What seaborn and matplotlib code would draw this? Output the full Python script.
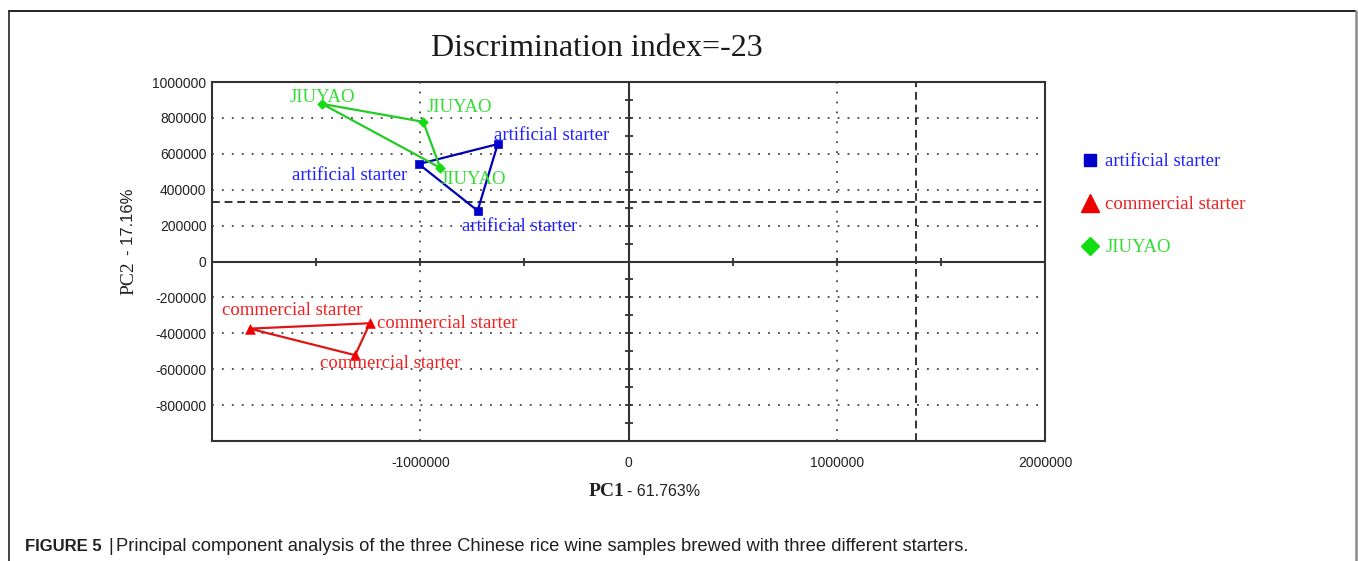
import numpy as np
import pandas as pd
import matplotlib
matplotlib.use("Agg")
import matplotlib.pyplot as plt
from matplotlib.lines import Line2D
import seaborn as sns

# ---- data -------------------------------------------------------------
groups = ["artificial starter", "commercial starter", "JIUYAO"]

artificial_pc1 = [-1007000, -628000, -724500]
artificial_pc2 = [543000, 654000, 283000]

commercial_pc1 = [-1819000, -1242000, -1312500]
commercial_pc2 = [-374000, -344000, -522000]

jiuyao_pc1 = [-1471000, -985600, -904000]
jiuyao_pc2 = [878000, 778000, 522000]

pc1_threshold = 1380000
pc2_threshold = 333000

x_ticks = [-1000000, 0, 1000000, 2000000]
x_tick_labels = ["-1000000", "0", "1000000", "2000000"]
y_ticks = [-800000, -600000, -400000, -200000, 0, 200000, 400000, 600000, 800000, 1000000]
y_tick_labels = ["-800000", "-600000", "-400000", "-200000", "0", "200000",
                 "400000", "600000", "800000", "1000000"]

title_text = "Discrimination index=-23"
caption_head = "FIGURE 5"
caption_body = "Principal component analysis of the three Chinese rice wine samples brewed with three different starters."

df = pd.DataFrame({
    "group": ["artificial starter"] * 3 + ["commercial starter"] * 3 + ["JIUYAO"] * 3,
    "pc1": artificial_pc1 + commercial_pc1 + jiuyao_pc1,
    "pc2": artificial_pc2 + commercial_pc2 + jiuyao_pc2,
})

# ---- styling ----------------------------------------------------------
sns.set_theme(style="white")
plt.rcParams["font.family"] = ["Liberation Sans", "DejaVu Sans"]
SERIF = ["Liberation Serif", "DejaVu Serif"]

line_colors = {"artificial starter": "#0000b4", "commercial starter": "#dd1616", "JIUYAO": "#22cc22"}
mark_colors = {"artificial starter": "#0000cc", "commercial starter": "#ee0000", "JIUYAO": "#11dd11"}
text_colors = {"artificial starter": "#1f1fff", "commercial starter": "#ee2020", "JIUYAO": "#33dd33"}
markers = {"artificial starter": "s", "commercial starter": "^", "JIUYAO": "D"}
mark_area = {"artificial starter": 30, "commercial starter": 48, "JIUYAO": 24}
legend_marker_size = {"artificial starter": 9.2, "commercial starter": 13, "JIUYAO": 9.2}

W, H = 1358, 561
fig = plt.figure(figsize=(W / 100, H / 100), dpi=100)


def fx(px):
    return px / W


def fy(py):
    return 1 - py / H


ax = fig.add_axes([fx(212), fy(441), fx(1045) - fx(212), fy(82) - fy(441)])
ax.set_xlim(-2000000, 2000000)
ax.set_ylim(-1000000, 1000000)

# dotted grid, zero axes and threshold lines
ax.set_xticks(x_ticks)
ax.set_yticks(y_ticks)
ax.grid(True, linestyle=(0, (1, 4.5)), color="#444444", linewidth=1.3)
ax.axhline(0, color="#333333", lw=1.5, zorder=2)
ax.axvline(0, color="#333333", lw=1.5, zorder=2)
ax.axhline(pc2_threshold, color="#333333", lw=1.4, ls=(0, (4, 2.5)), zorder=2)
ax.axvline(pc1_threshold, color="#333333", lw=1.4, ls=(0, (4, 2.5)), zorder=2)

# small cross ticks along the zero axes
y_minor = np.arange(-1000000, 1000001, 100000)
x_minor = np.arange(-1500000, 1500001, 500000)
ax.plot(np.zeros_like(y_minor), y_minor, ls="none", marker="_", ms=6, mew=1.3, color="#333333", zorder=2)
ax.plot(x_minor, np.zeros_like(x_minor), ls="none", marker="|", ms=6, mew=1.3, color="#333333", zorder=2)

# closed outline for every group
for g in groups:
    sub = df[df["group"] == g]
    xs = list(sub["pc1"]) + [sub["pc1"].iloc[0]]
    ys = list(sub["pc2"]) + [sub["pc2"].iloc[0]]
    ax.plot(xs, ys, color=line_colors[g], lw=1.6, zorder=3)

# sample markers
for g in groups:
    sns.scatterplot(data=df[df["group"] == g], x="pc1", y="pc2", marker=markers[g],
                    color=mark_colors[g], s=mark_area[g], edgecolor=mark_colors[g],
                    linewidth=0.5, ax=ax, zorder=4, legend=False)

# sample labels (offsets in pixels: dx, dy, horizontal alignment)
label_offsets = [
    (-12, -16, "right"), (-4, 4, "left"), (-16, -20, "left"),      # artificial
    (-28, 14, "left"), (7, -5, "left"), (-35, -13, "left"),        # commercial
    (0, 2, "center"), (3, 10, "left"), (0, -16, "left"),           # JIUYAO
]
for (i, row), (dx, dy, ha) in zip(df.iterrows(), label_offsets):
    ax.annotate(row["group"], (row["pc1"], row["pc2"]), xytext=(dx * 0.72, dy * 0.72),
                textcoords="offset points", ha=ha, va="baseline",
                fontsize=13.5, family=SERIF, color=text_colors[row["group"]], zorder=5)

# axes frame and tick labels
for s in ax.spines.values():
    s.set_color("#333333")
    s.set_linewidth(1.5)
    s.set_visible(True)
ax.set_xticklabels(x_tick_labels)
ax.set_yticklabels(y_tick_labels)
ax.tick_params(axis="both", length=0, labelsize=10, labelcolor="#222222")
ax.tick_params(axis="x", pad=11)
ax.tick_params(axis="y", pad=4)
ax.set_xlabel("")
ax.set_ylabel("")

# axis titles
fig.text(fx(624), fy(496), "PC1", family=SERIF, fontsize=14, fontweight="bold",
         ha="right", va="baseline", color="#222222")
fig.text(fx(627), fy(496), "- 61.763%", fontsize=11.5, ha="left", va="baseline", color="#222222")
fig.text(fx(133), fy(261), "PC2", family=SERIF, fontsize=14, rotation=90, rotation_mode="anchor",
         ha="right", va="baseline", color="#222222")
fig.text(fx(133), fy(255), "- 17.16%", fontsize=12, rotation=90, rotation_mode="anchor",
         ha="left", va="baseline", color="#222222")

# title
fig.text(fx(597), fy(56), title_text, family=SERIF, fontsize=23, ha="center", va="baseline",
         color="#1a1a1a")

# legend
handles = [Line2D([], [], ls="none", marker=markers[g], color=mark_colors[g],
                  markersize=legend_marker_size[g]) for g in groups]
leg = ax.legend(handles, groups, loc="upper left", bbox_to_anchor=(1.034, 0.823), frameon=False,
                prop={"family": SERIF, "size": 13.5}, labelspacing=1.38, handlelength=1.0,
                handletextpad=0.3, borderaxespad=0)
for txt, g in zip(leg.get_texts(), groups):
    txt.set_color(text_colors[g])

# caption
fig.text(fx(25), fy(551), caption_head, fontsize=12, fontweight="bold", ha="left", va="baseline",
         color="#231f20")
fig.text(fx(108), fy(551), "|", fontsize=13.5, ha="left", va="baseline", color="#231f20")
fig.text(fx(116), fy(551), caption_body, fontsize=13.2, ha="left", va="baseline", color="#231f20")

# figure frame
fig.add_artist(Line2D([fx(8.5), fx(8.5)], [fy(11), 0], transform=fig.transFigure, color="#222222", lw=1.2))
fig.add_artist(Line2D([fx(8.5), fx(1355)], [fy(11), fy(11)], transform=fig.transFigure, color="#222222", lw=1.4))
fig.add_artist(Line2D([fx(1355.5), fx(1355.5)], [fy(11), 0], transform=fig.transFigure, color="#8a8a8a", lw=1.8))

fig.savefig("out.png", dpi=100)
